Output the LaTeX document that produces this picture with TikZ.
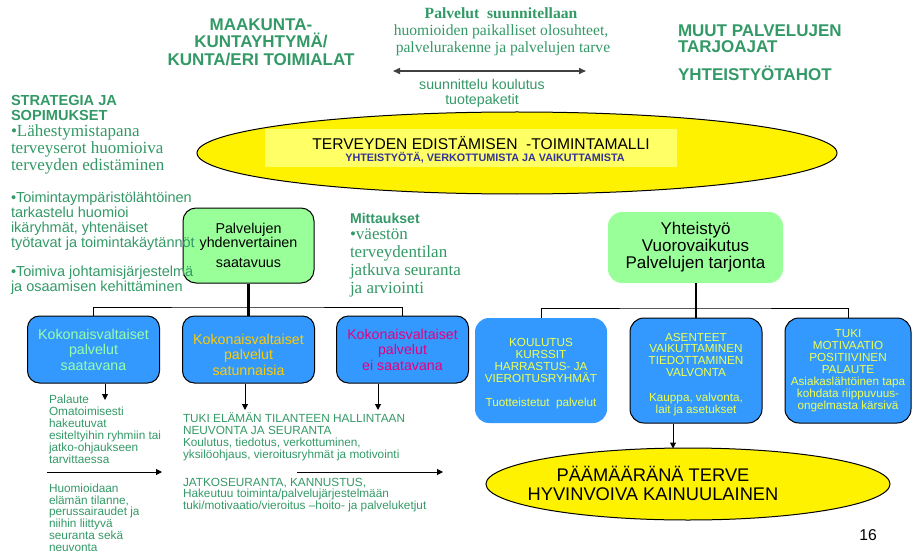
\documentclass[tikz,border=0pt]{standalone}
\usepackage{fontspec}
\setmainfont{Liberation Serif}
\setsansfont{Liberation Sans}
\usetikzlibrary{arrows.meta,shapes.geometric}
\definecolor{tgreen}{RGB}{51,153,102}
\definecolor{boxblue}{RGB}{51,153,255}
\definecolor{lgreen}{RGB}{153,255,153}
\definecolor{byellow}{RGB}{238,255,85}
\definecolor{pale}{RGB}{255,255,102}
\definecolor{navy}{RGB}{51,51,153}
\definecolor{bgreen}{RGB}{153,255,170}
\definecolor{borange}{RGB}{255,204,0}
\definecolor{bmag}{RGB}{230,0,126}
\newcommand\myfs[2]{\fontsize{#1}{#2}\selectfont}
\begin{document}
\begin{tikzpicture}[x=1pt,y=-1pt,
  txt/.style={inner sep=0pt,outer sep=0pt,text=tgreen,font=\sffamily},
  boxl/.style={draw=black,line width=1pt,fill=boxblue,rounded corners=12pt,
    minimum height=67pt,minimum width=132pt,inner sep=0pt,align=center,
    font=\sffamily\myfs{14.2}{15.5}},
  boxr/.style={fill=boxblue,rounded corners=14pt,minimum height=105pt,
    minimum width=132pt,inner sep=0pt,align=center,text=byellow,
    font=\sffamily\myfs{11.7}{11.9}},
  thick line/.style={line width=2.5pt},
  thin line/.style={line width=1pt},
  arr/.style={-{Triangle[length=6pt,width=6pt]},line width=1pt},
]
\useasboundingbox (0,0) rectangle (912,556);

% top texts
\node[txt,anchor=north,align=center,font=\sffamily\bfseries\myfs{17}{17.3}] (maak) at (261,19)
  {MAAKUNTA-\\KUNTAYHTYMÄ/\\KUNTA/ERI TOIMIALAT};
\node[txt,anchor=north,align=center,font=\rmfamily\myfs{15.6}{17}] (palv) at (501,7.5)
  {\textbf{Palvelut\ \ suunnitellaan}\\huomioiden paikalliset olosuhteet,\\\ palvelurakenne ja palvelujen tarve};
\coordinate (aL) at (393,71);
\coordinate (aR) at (586,71);
\draw[{Triangle[length=7pt,width=6pt]}-{Triangle[length=7pt,width=6pt]},line width=1.5pt,black!75] (aL) -- (aR);
\node[txt,anchor=north,align=center,font=\sffamily\myfs{14.2}{15}] (suun) at (482,79)
  {suunnittelu koulutus\\tuotepaketit};
\node[txt,anchor=north west,align=left,font=\sffamily\bfseries\myfs{17}{16}] (muut) at (678,24.5)
  {MUUT PALVELUJEN\\TARJOAJAT};
\node[txt,anchor=north west,align=left,font=\sffamily\bfseries\myfs{17}{16}] (yht) at (678,66)
  {YHTEISTYÖTAHOT};

% big ellipse
\node[ellipse,draw=black,line width=1pt,fill=yellow,minimum width=640pt,minimum height=82pt,inner sep=0pt] (tem) at (517,153) {};
\node[fill=pale,minimum width=412pt,minimum height=38pt,inner sep=0pt] (paleb) at (471,148) {};
\node[inner sep=0pt,font=\sffamily\myfs{15.6}{16}] (t1) at (481,143) {TERVEYDEN EDISTÄMISEN\ \ -TOIMINTAMALLI};
\node[inner sep=0pt,text=navy,font=\sffamily\bfseries\myfs{10.8}{11}] (t2) at (485,157.5) {YHTEISTYÖTÄ, VERKOTTUMISTA JA VAIKUTTAMISTA};

% left texts
\node[txt,anchor=north west,align=left,font=\sffamily\bfseries\myfs{14.6}{15}] (strat) at (11,95)
  {STRATEGIA JA\\SOPIMUKSET};
\node[txt,anchor=north west,align=left,font=\rmfamily\myfs{17}{17}] (lah) at (11,124.5)
  {•Lähestymistapana\\terveyserot huomioiva\\terveyden edistäminen};

% green boxes
\node[draw=black,line width=1pt,fill=lgreen,rounded corners=13pt,minimum width=131pt,minimum height=75pt,
  inner sep=0pt,align=center,font=\sffamily\myfs{14.3}{14}] (pyh) at (248.5,245.5)
  {Palvelujen\\yhdenvertainen\\[6pt]saatavuus};
\node[fill=lgreen,rounded corners=14pt,minimum width=175pt,minimum height=71pt,
  inner sep=0pt,align=center,font=\sffamily\myfs{17}{17}] (yvp) at (695.5,247.5)
  {Yhteistyö\\Vuorovaikutus\\Palvelujen tarjonta};

\node[txt,anchor=north west,align=left,font=\sffamily\myfs{14.5}{15}] (toim) at (11,192)
  {•Toimintaympäristölähtöinen\\tarkastelu huomioi\\ikäryhmät, yhtenäiset\\työtavat ja toimintakäytännöt};
\node[txt,anchor=north west,align=left,font=\sffamily\myfs{14.5}{15}] (toim2) at (11,266)
  {•Toimiva johtamisjärjestelmä\\ja osaamisen kehittäminen};
\node[txt,anchor=north west,align=left,font=\sffamily\bfseries\myfs{14.1}{15}] (mitt) at (350,213)
  {Mittaukset};
\node[txt,anchor=north west,align=left,font=\rmfamily\myfs{17}{18}] (vaest) at (350,229)
  {•väestön\\terveydentilan\\jatkuva seuranta\\ja arviointi};

% left boxes
\node[boxl,text=bgreen] (b1) at (93.5,349.5) {Kokonaisvaltaiset\\palvelut\\saatavana};
\node[boxl,text=borange] (b2) at (248.5,349.5) {\rule{0pt}{21pt}Kokonaisvaltaiset\\palvelut\\satunnaisia};
\node[boxl,text=bmag] (b3) at (402.5,349.5) {Kokonaisvaltaiset\\palvelut\\ei saatavana};

% right boxes
\node[boxr] (b4) at (541,370.5) {\rule{0pt}{14.5pt}KOULUTUS\\KURSSIT\\HARRASTUS- JA\\VIEROITUSRYHMÄT\\[11.5pt]Tuotteistetut\ \ palvelut};
\node[boxr,draw=black,line width=1pt] (b5) at (696,370.5) {\rule{0pt}{16pt}ASENTEET\\VAIKUTTAMINEN\\TIEDOTTAMINEN\\VALVONTA\\[13pt]Kauppa, valvonta,\\lait ja asetukset};
\node[boxr,draw=black,line width=1pt,minimum width=126pt] (b6) at (848,370.5) {TUKI\\MOTIVAATIO\\POSITIIVINEN\\PALAUTE\\Asiakaslähtöinen tapa\\kohdata riippuvuus-\\ongelmasta kärsivä};

% tree lines
\coordinate (jl) at (248,307);
\coordinate (jr) at (696,308);
\draw[thick line] (pyh.south) -- (b2.north);
\draw[thin line] (b1.north) |- (jl) -| (b3.north);
\draw[thick line] (yvp.south -| b5.north) -- (b5.north);
\draw[thin line] (b4.north) |- (jr) -| (b6.north);

% bottom ellipse
\node[ellipse,draw=black,line width=1pt,fill=yellow,minimum width=404pt,minimum height=72pt,inner sep=0pt] (goal) at (688,484) {};
\node[inner sep=0pt,align=center,font=\sffamily\myfs{18.3}{19}] (goaltxt) at (653,483)
  {PÄÄMÄÄRÄNÄ TERVE\\HYVINVOIVA KAINUULAINEN};

% arrows down
\coordinate (p1) at (105,400);
\coordinate (p2) at (245,410);
\coordinate (p3) at (378,410);
\coordinate (p5) at (673,448.5);
\draw[arr] (b1.south -| p1) -- (p1);
\draw[arr] (b2.south -| p2) -- (p2);
\draw[arr] (b3.south -| p3) -- (p3);
\draw[arr] (b5.south -| p5) -- (p5);

% bottom texts
\node[txt,anchor=north west,align=left,font=\sffamily\myfs{11.8}{12}] (pal) at (49,394.8)
  {Palaute\\Omatoimisesti\\hakeutuvat\\esiteltyihin ryhmiin tai\\jatko-ohjaukseen\\tarvittaessa};
\node[txt,anchor=north west,align=left,font=\sffamily\myfs{11.8}{11.8}] (huom) at (49,483.8)
  {Huomioidaan\\elämän tilanne,\\perussairaudet ja\\niihin liittyvä\\seuranta sekä\\neuvonta};
\node[txt,anchor=north west,align=left,font=\sffamily\myfs{11.8}{12}] (tuki) at (183,412.8)
  {TUKI ELÄMÄN TILANTEEN HALLINTAAN\\NEUVONTA JA SEURANTA\\Koulutus, tiedotus, verkottuminen,\\yksilöohjaus, vieroitusryhmät ja motivointi};
\node[txt,anchor=north west,align=left,font=\sffamily\myfs{11.8}{11.6}] (jatko) at (183,477.8)
  {JATKOSEURANTA, KANNUSTUS,\\Hakeutuu toiminta/palvelujärjestelmään\\tuki/motivaatio/vieroitus –hoito- ja palveluketjut};

\coordinate (h1a) at (47,472);
\coordinate (h1b) at (162,472);
\coordinate (h2a) at (297,472);
\coordinate (h2b) at (443,472);
\draw[arr] (h1a) -- (h1b);
\draw[arr] (h2a) -- (h2b);

\node[inner sep=0pt,font=\sffamily\myfs{15.7}{16}] (pnum) at (868,535) {16};
\end{tikzpicture}
\end{document}
